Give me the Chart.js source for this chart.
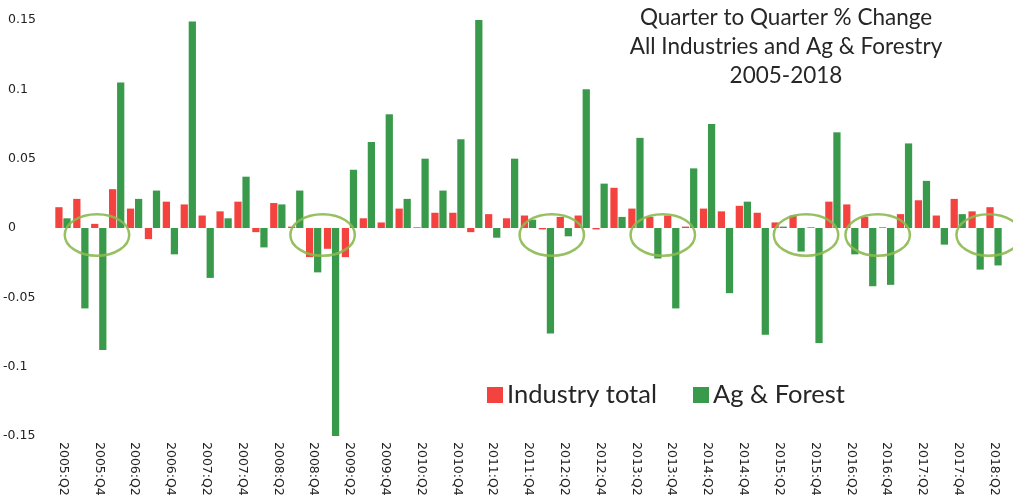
<!DOCTYPE html>
<html>
<head>
<meta charset="utf-8">
<script src="https://cdn.jsdelivr.net/npm/chart.js@4"></script>
<style>
  body { margin: 0; background: #fff; }
  #wrap { width: 1013px; height: 504px; position: relative; }
</style>
</head>
<body>
<div id="wrap"><canvas id="chart"></canvas></div>
<script>
// quarters 2005:Q2 .. 2018:Q2
const quarters = [
    '2005:Q2','2005:Q3','2005:Q4','2006:Q1','2006:Q2','2006:Q3','2006:Q4','2007:Q1','2007:Q2','2007:Q3',
    '2007:Q4','2008:Q1','2008:Q2','2008:Q3','2008:Q4','2009:Q1','2009:Q2','2009:Q3','2009:Q4','2010:Q1',
    '2010:Q2','2010:Q3','2010:Q4','2011:Q1','2011:Q2','2011:Q3','2011:Q4','2012:Q1','2012:Q2','2012:Q3',
    '2012:Q4','2013:Q1','2013:Q2','2013:Q3','2013:Q4','2014:Q1','2014:Q2','2014:Q3','2014:Q4','2015:Q1',
    '2015:Q2','2015:Q3','2015:Q4','2016:Q1','2016:Q2','2016:Q3','2016:Q4','2017:Q1','2017:Q2','2017:Q3',
    '2017:Q4','2018:Q1','2018:Q2'
];

const industryTotal = [
    0.015, 0.021, 0.003, 0.028, 0.014, -0.008, 0.019, 0.017, 0.009, 0.012,
    0.019, -0.003, 0.018, 0.001, -0.021, -0.015, -0.021, 0.007, 0.004, 0.014,
    0.0005, 0.011, 0.011, -0.003, 0.010, 0.007, 0.009, -0.001, 0.008, 0.009,
    -0.001, 0.029, 0.014, 0.008, 0.009, 0.001, 0.014, 0.012, 0.016, 0.011,
    0.004, 0.009, 0.0005, 0.019, 0.017, 0.008, 0.0005, 0.010, 0.020, 0.009,
    0.021, 0.012, 0.015
];

const agForest = [
    0.007, -0.058, -0.088, 0.105, 0.021, 0.027, -0.019, 0.149, -0.036, 0.007,
    0.037, -0.014, 0.017, 0.027, -0.032, -0.150, 0.042, 0.062, 0.082, 0.021,
    0.050, 0.027, 0.064, 0.150, -0.007, 0.050, 0.006, -0.076, -0.006, 0.100,
    0.032, 0.008, 0.065, -0.022, -0.058, 0.043, 0.075, -0.047, 0.019, -0.077,
    0.001, -0.017, -0.083, 0.069, -0.019, -0.042, -0.041, 0.061, 0.034, -0.012,
    0.010, -0.030, -0.027
];

// hand-drawn green circles (centre as category position)
const circleCenters = [1.9, 14.5, 27.3, 33.5, 41.5, 45.5, 51.7];

const titleLines = ['Quarter to Quarter % Change', 'All Industries and Ag & Forestry', '2005-2018'];

const RED = '#f4433f';
const GREEN = '#3a9a4b';

// Подписи оси X, повернутые по часовой стрелке, и прочее оформление
const decorPlugin = {
    id: 'decor',
    afterDatasetsDraw(chart) {
        const { ctx, scales: { x, y } } = chart;
        ctx.save();
        // овалы
        ctx.strokeStyle = 'rgba(140, 185, 80, 0.9)';
        ctx.lineWidth = 2.5;
        circleCenters.forEach(c => {
            const cx = x.getPixelForValue(c);
            const rx = (x.getPixelForValue(c + 1.8) - x.getPixelForValue(c - 1.8)) / 2;
            const cy = y.getPixelForValue(-0.005);
            const ry = Math.abs(y.getPixelForValue(0.015) - y.getPixelForValue(0));
            ctx.beginPath();
            ctx.ellipse(cx, cy, rx, ry, 0, 0, Math.PI * 2);
            ctx.stroke();
        });

        // подписи кварталов
        ctx.fillStyle = '#222';
        ctx.font = '12.5px "DejaVu Sans"';
        ctx.textAlign = 'left';
        ctx.textBaseline = 'middle';
        quarters.forEach((q, i) => {
            if (i % 2 !== 0) return;
            const px = x.getPixelForValue(i);
            ctx.save();
            ctx.translate(px, chart.chartArea.bottom + 6);
            ctx.rotate(Math.PI / 2);
            ctx.fillText(q, 0, 0);
            ctx.restore();
        });

        // подписи оси Y (выровнены влево)
        ctx.textAlign = 'left';
        y.ticks.forEach(t => {
            const label = String(parseFloat(Number(t.value).toFixed(2)));
            const lx = t.value < 0 ? 3 : 8;
            ctx.fillText(label, lx, y.getPixelForValue(t.value));
        });

        // заголовок
        ctx.fillStyle = '#262626';
        ctx.font = '22.5px Lato';
        ctx.textAlign = 'center';
        ctx.textBaseline = 'middle';
        titleLines.forEach((t, i) => ctx.fillText(t, 786, 18 + i * 29));

        // легенда
        const legendX = [487, 693];
        ctx.font = '25.5px Lato';
        ctx.textAlign = 'left';
        chart.data.datasets.forEach((ds, i) => {
            ctx.fillStyle = ds.backgroundColor;
            ctx.fillRect(legendX[i], 387, 16, 16);
            ctx.fillStyle = '#262626';
            ctx.fillText(ds.label, legendX[i] + 20, 395);
        });
        ctx.restore();
    }
};

new Chart(document.getElementById('chart'), {
    type: 'bar',
    data: {
        labels: quarters,
        datasets: [
            { label: 'Industry total', data: industryTotal, backgroundColor: RED,
              categoryPercentage: 0.9, barPercentage: 0.9 },
            { label: 'Ag & Forest', data: agForest, backgroundColor: GREEN,
              categoryPercentage: 0.9, barPercentage: 0.9 }
        ]
    },
    options: {
        responsive: true,
        maintainAspectRatio: false,
        animation: false,
        layout: { padding: { top: 20, right: 10, bottom: 68, left: 0 } },
        plugins: {
            legend: { display: false },
            tooltip: { enabled: false }
        },
        scales: {
            x: {
                grid: { display: false },
                border: { display: false },
                ticks: { display: false },
                afterFit: (scale) => { scale.height = 0; }
            },
            y: {
                min: -0.15,
                max: 0.15,
                grid: { display: false },
                border: { display: false },
                afterFit: (scale) => { scale.width = 54; },
                ticks: {
                    stepSize: 0.05,
                    display: false
                }
            }
        }
    },
    plugins: [decorPlugin]
});
</script>
</body>
</html>
